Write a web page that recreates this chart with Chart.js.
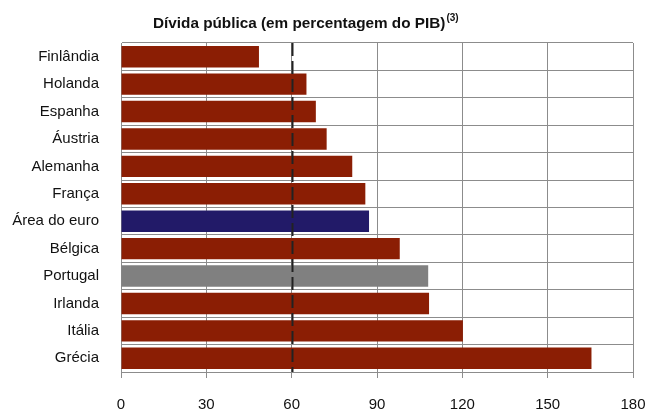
<!DOCTYPE html>
<html>
<head>
<meta charset="utf-8">
<script src="https://cdn.jsdelivr.net/npm/chart.js@4/dist/chart.umd.min.js"></script>
<style>
  html, body { margin: 0; padding: 0; background: #fff; }
  #wrap { width: 647px; height: 414px; position: relative; }
</style>
</head>
<body>
<div id="wrap"><canvas id="ch-debt"></canvas></div>
<script>
// ── DATA ─────────────────────────────────────────────────────────────────────
const countries = ['Finlândia','Holanda','Espanha','Áustria','Alemanha','França',
                   'Área do euro','Bélgica','Portugal','Irlanda','Itália','Grécia'];
const debtPct   = [48.5, 65.2, 68.5, 72.3, 81.3, 85.9, 87.2, 98.0, 108.0, 108.3, 120.2, 165.4];
const xTicks    = [0, 30, 60, 90, 120, 150, 180];
const refLine   = 60;   // Maastricht reference value
const titleText = 'Dívida pública (em percentagem do PIB)';
const titleNote = '(3)';

// Colour scheme
const RED   = '#8b1e04';
const NAVY  = '#221a68';
const GREY  = '#808080';
const GRID  = '#8c8c8c';
const FONT  = "'Liberation Sans', Arial, sans-serif";

const barColors = countries.map(c => c === 'Área do euro' ? NAVY : c === 'Portugal' ? GREY : RED);

// ── PLUGINS ──────────────────────────────────────────────────────────────────
const refLinePlugin = {
  id: 'refLine',
  afterDatasetsDraw(chart) {
    const { ctx, chartArea: a, scales: { x } } = chart;
    const px = Math.round(x.getPixelForValue(refLine)) + 0.5;
    ctx.save();
    ctx.strokeStyle = '#222';
    ctx.lineWidth = 2;
    ctx.setLineDash([13, 5]);
    ctx.beginPath();
    ctx.moveTo(px, a.top);
    ctx.lineTo(px, a.bottom);
    ctx.stroke();
    ctx.restore();
  }
};

const titlePlugin = {
  id: 'titleSup',
  afterDraw(chart) {
    const { ctx } = chart;
    ctx.save();
    ctx.fillStyle = '#111';
    ctx.textBaseline = 'alphabetic';
    ctx.font = "bold 15.3px " + FONT;
    const w1 = ctx.measureText(titleText).width;
    let x0 = 153;
    ctx.fillText(titleText, x0, 28);
    ctx.font = "bold 10px " + FONT;
    ctx.fillText(titleNote, x0 + w1 + 1, 21);
    ctx.restore();
  }
};

// ── CHART ────────────────────────────────────────────────────────────────────
new Chart(document.getElementById('ch-debt').getContext('2d'), {
  type: 'bar',
  data: {
    labels: countries,
    datasets: [{
      data: debtPct,
      backgroundColor: barColors,
      borderWidth: 0,
      barPercentage: 0.78,
      categoryPercentage: 1.0
    }]
  },
  options: {
    indexAxis: 'y',
    responsive: true,
    maintainAspectRatio: false,
    animation: false,
    layout: { padding: { top: 43, right: 14, left: 0, bottom: 0 } },
    plugins: { legend: { display: false }, tooltip: { enabled: false }, title: { display: false } },
    scales: {
      x: {
        min: 0, max: 180,
        afterBuildTicks: s => { s.ticks = xTicks.map(v => ({ value: v })); },
        afterFit: s => { s.height = 42; s.paddingRight = 0; },
        grid: { color: GRID, lineWidth: 1, tickLength: 6, drawTicks: true },
        border: { color: GRID },
        ticks: { color: '#111', font: { family: FONT, size: 15 }, padding: 18, maxRotation: 0 }
      },
      y: {
        afterFit: s => { s.width = 121; },
        grid: { color: GRID, lineWidth: 1, offset: true, drawTicks: false },
        border: { color: GRID },
        ticks: { color: '#111', font: { family: FONT, size: 15 }, padding: 22 }
      }
    }
  },
  plugins: [refLinePlugin, titlePlugin]
});
</script>
</body>
</html>
